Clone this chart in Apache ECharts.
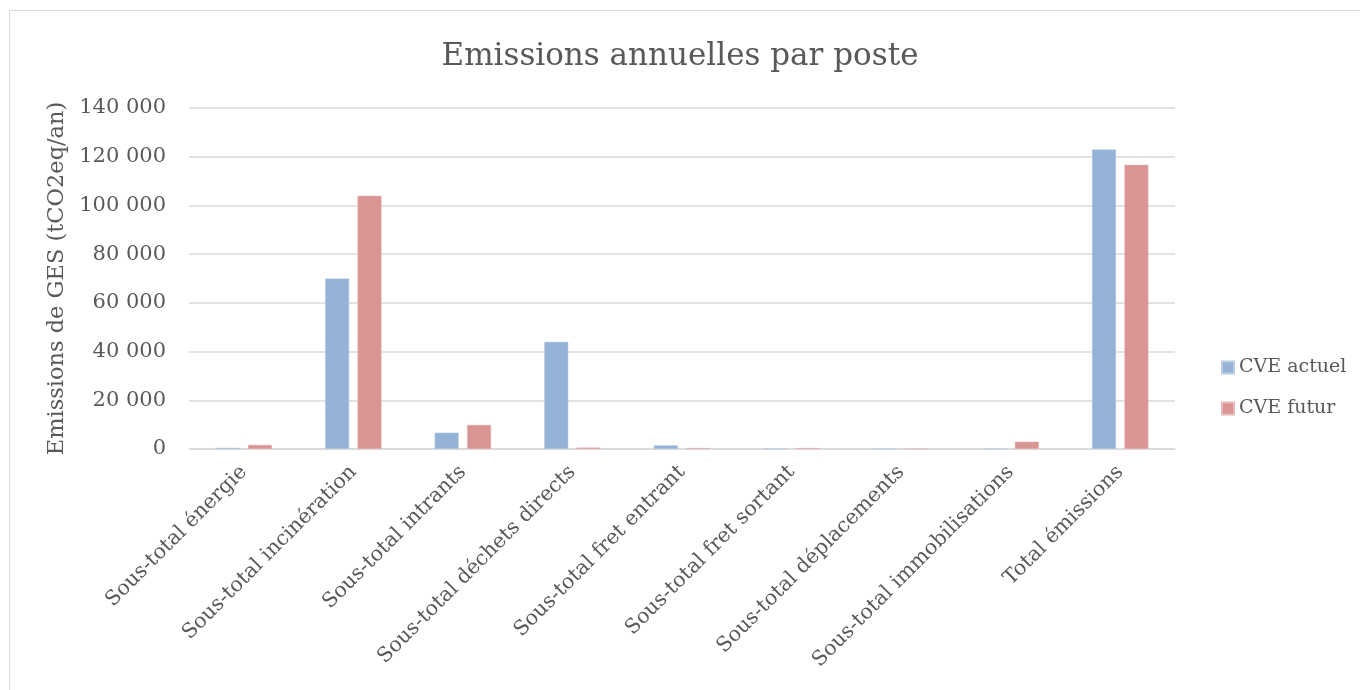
<!DOCTYPE html>
<html><head><meta charset="utf-8">
<script src="https://cdn.jsdelivr.net/npm/echarts@6/dist/echarts.min.js"></script>
<style>html,body{margin:0;padding:0;background:#fff}#c{width:1360px;height:690px}</style>
</head><body><div id="c"></div>
<script>
const categories = ["Sous-total énergie","Sous-total incinération","Sous-total intrants","Sous-total déchets directs","Sous-total fret entrant","Sous-total fret sortant","Sous-total déplacements","Sous-total immobilisations","Total émissions"];
const seriesNames = ["CVE actuel","CVE futur"];
const actuel = [500, 70000, 6700, 44000, 1500, 200, 50, 100, 123000];
const futur = [1700, 104000, 9900, 600, 400, 400, 50, 3000, 116700];
const yTicks = [0, 20000, 40000, 60000, 80000, 100000, 120000, 140000];

const FONT = "DejaVu Serif";
const TXT = "#595959";
const chart = echarts.init(document.getElementById('c'));
chart.setOption({
  backgroundColor: '#fff',
  animation: false,
  graphic: [{type:'rect', shape:{x:9.5,y:10.5,width:1360,height:690}, style:{fill:'none', stroke:'#d9d9d9', lineWidth:1}}],
  title: {text:'Emissions annuelles par poste', left:'center', top:36,
    textStyle:{fontFamily:FONT, fontSize:31, fontWeight:'normal', color:TXT}},
  legend: {orient:'vertical', left:1216, top:353, itemGap:22, itemWidth:12, itemHeight:12, icon:'rect',
    textStyle:{fontFamily:FONT, fontSize:19, color:TXT}, data: seriesNames},
  grid: {left:189, right:185, top:108, bottom:241},
  xAxis: {type:'category', data:categories,
    axisLine:{lineStyle:{color:'#d9d9d9', width:1.5}}, axisTick:{show:false},
    axisLabel:{rotate:45, interval:0, fontFamily:FONT, fontSize:20.5, color:TXT, margin:20}},
  yAxis: {type:'value', min:yTicks[0], max:yTicks[yTicks.length-1], interval:20000,
    name:'Emissions de GES (tCO2eq/an)', nameLocation:'middle', nameGap:115,
    nameTextStyle:{fontFamily:FONT, fontSize:22.5, color:TXT},
    axisLine:{show:false}, axisTick:{show:false},
    splitLine:{lineStyle:{color:'#d9d9d9', width:1.5}},
    axisLabel:{fontFamily:FONT, fontSize:21, color:TXT, margin:23,
      formatter: v => String(v).replace(/\B(?=(\d{3})+(?!\d))/g, ' ')}},
  series: [
    {name:seriesNames[0], type:'bar', data:actuel, barWidth:24, barGap:'35%',
     itemStyle:{color:'#95b3d7', borderColor:'#b8cce4', borderWidth:0.5}},
    {name:seriesNames[1], type:'bar', data:futur, barWidth:24,
     itemStyle:{color:'#d99594', borderColor:'#e6b9b8', borderWidth:0.5}}
  ]
});
</script></body></html>
